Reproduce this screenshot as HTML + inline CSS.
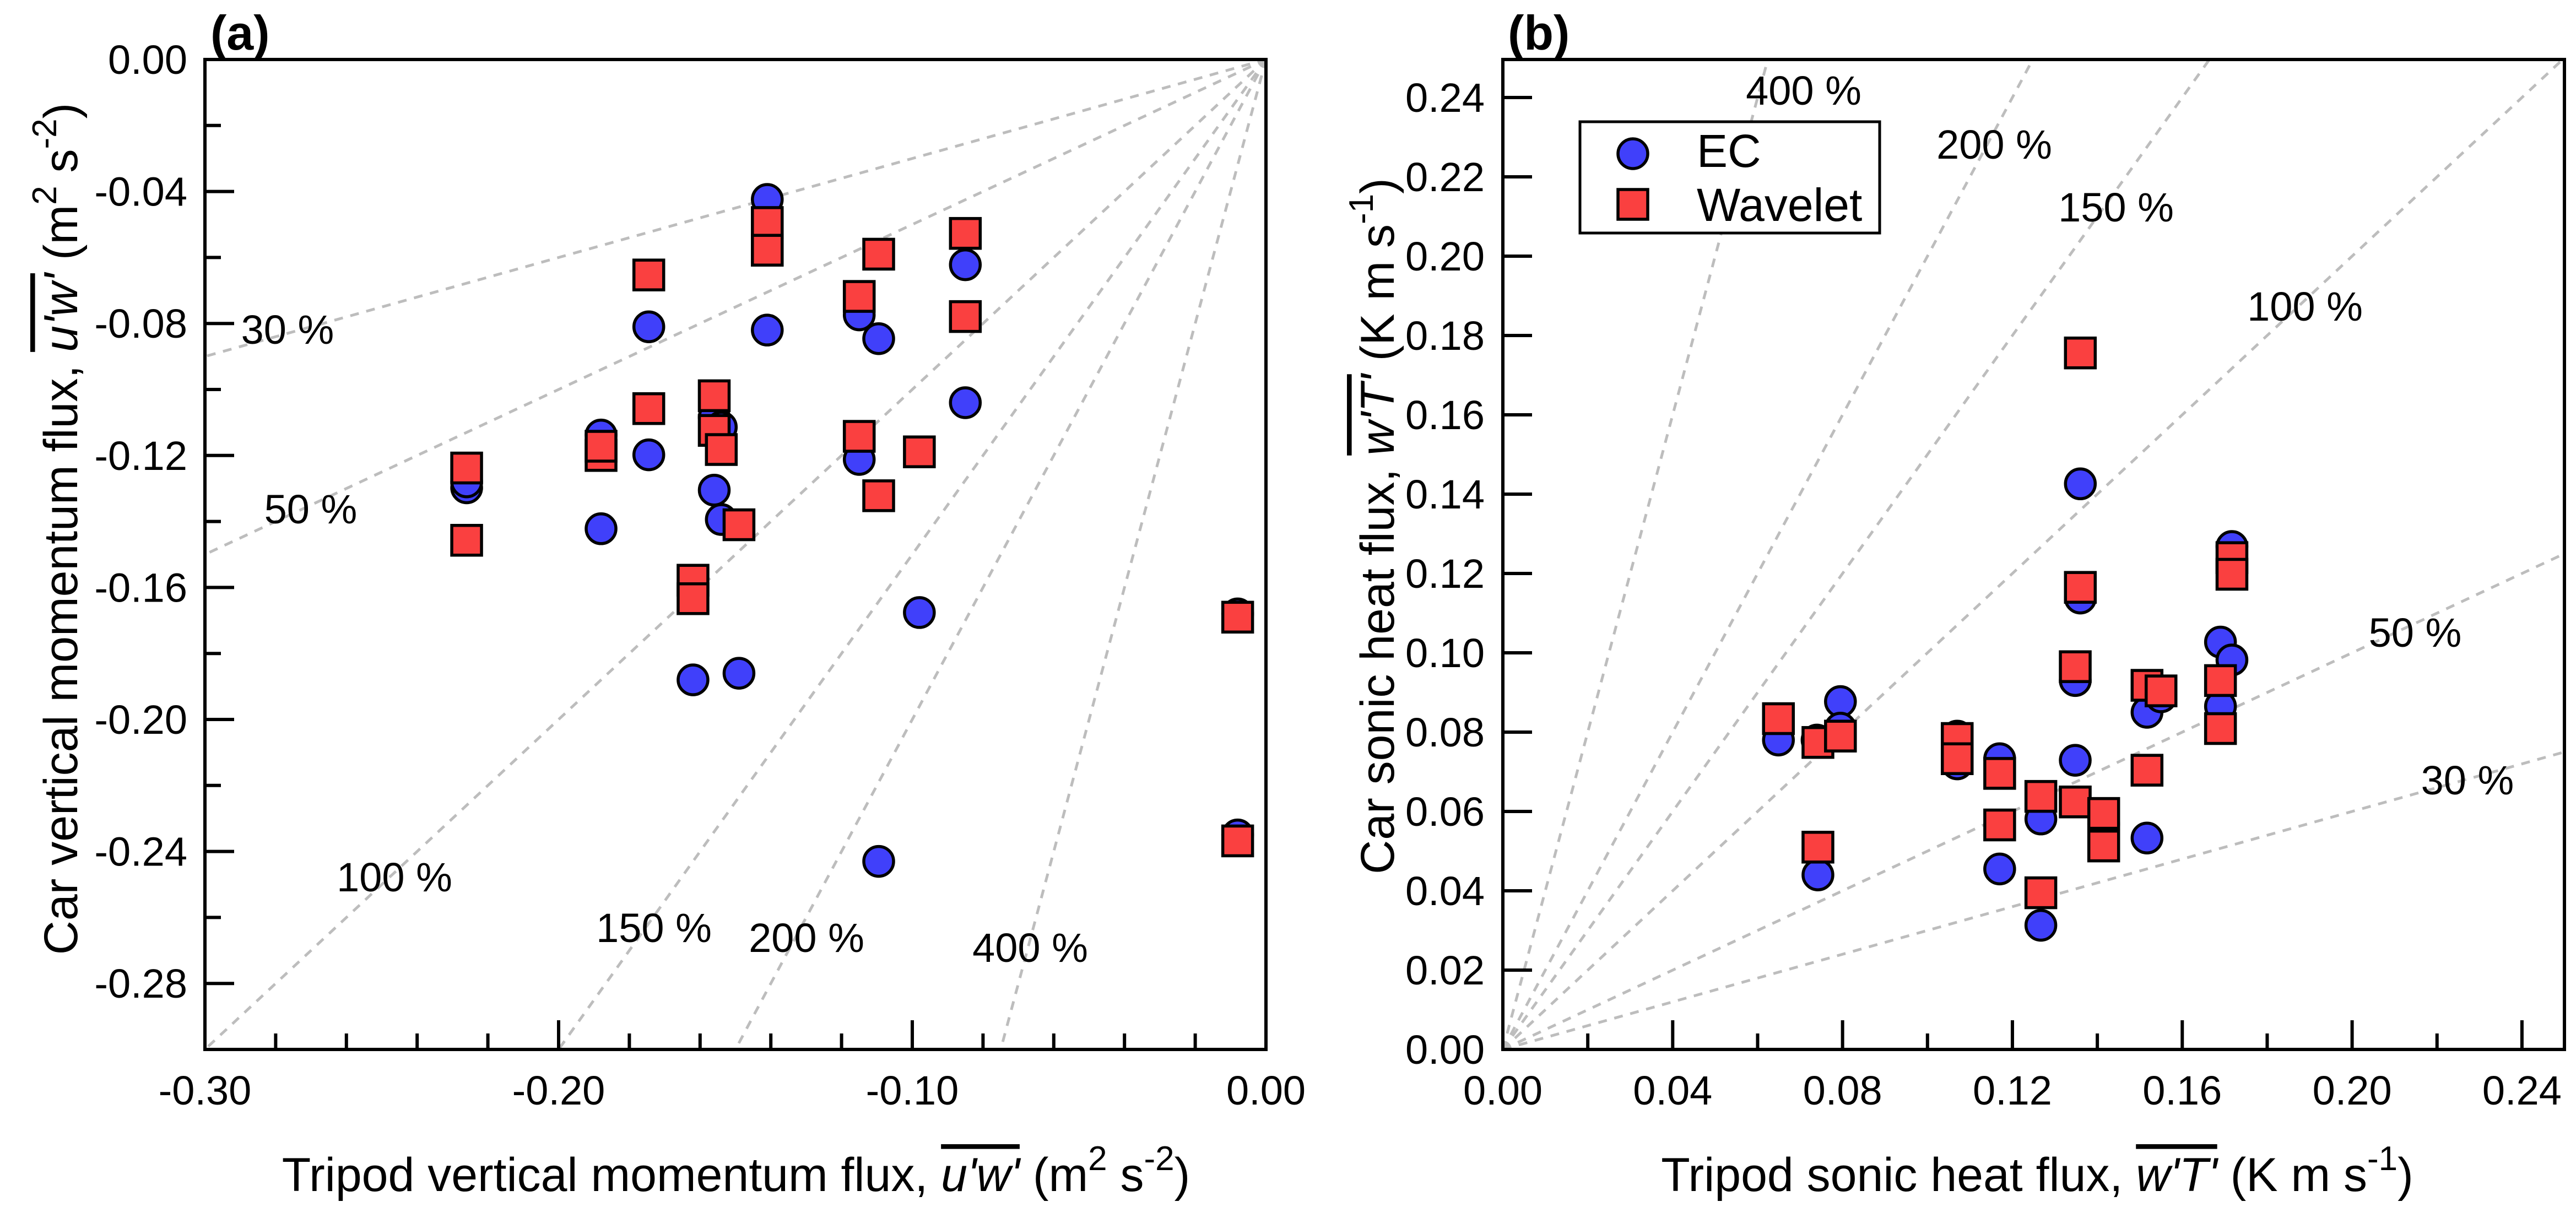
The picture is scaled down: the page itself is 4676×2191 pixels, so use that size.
<!DOCTYPE html>
<html><head><meta charset="utf-8">
<style>
html,body{margin:0;padding:0;background:#fff;}
svg{display:block;font-family:"Liberation Sans",Arial,sans-serif;}
</style></head>
<body>
<svg id="chart" width="4676" height="2191" viewBox="0 0 4676 2191" xmlns="http://www.w3.org/2000/svg">
<defs>
<clipPath id="clipA"><rect x="372" y="108" width="1926" height="1797"/></clipPath>
<clipPath id="clipB"><rect x="2728" y="108" width="1927" height="1797"/></clipPath>
</defs>
<g id="panelA"></g>
<g id="panelB"></g>
</svg>
<script>
// ---- Panel (a) data: momentum flux ----
const aEcX = [-0.141,-0.085,-0.1745,-0.141,-0.115,-0.1095,-0.085,-0.188,-0.1745,-0.156,-0.154,-0.226,-0.226,-0.156,-0.154,-0.188,-0.115,-0.098,-0.162,-0.149,-0.1095,-0.008,-0.008];
const aEcY = [-0.0424,-0.0622,-0.081,-0.082,-0.0774,-0.0846,-0.104,-0.1138,-0.1198,-0.1084,-0.1114,-0.1298,-0.128,-0.1305,-0.1394,-0.1422,-0.1212,-0.1676,-0.188,-0.186,-0.243,-0.168,-0.235];
const aWvX = [-0.141,-0.141,-0.085,-0.1095,-0.1745,-0.115,-0.085,-0.1745,-0.156,-0.156,-0.154,-0.188,-0.188,-0.226,-0.226,-0.149,-0.115,-0.098,-0.1095,-0.162,-0.162,-0.008,-0.008];
const aWvY = [-0.0494,-0.0578,-0.0527,-0.059,-0.0653,-0.0718,-0.0779,-0.1058,-0.1019,-0.1124,-0.1182,-0.120,-0.1172,-0.1238,-0.1457,-0.141,-0.1142,-0.1189,-0.1322,-0.1578,-0.1634,-0.169,-0.2368];
const aRatios = [0.3,0.5,1,1.5,2,4];
const aRatioLabels = ["30 %","50 %","100 %","150 %","200 %","400 %"];
const aXTicks = [-0.30,-0.20,-0.10,0.00];
const aYTicks = [0.00,-0.04,-0.08,-0.12,-0.16,-0.20,-0.24,-0.28];

// ---- Panel (b) data: sonic heat flux ----
const bEcX = [0.0649,0.074,0.0795,0.0795,0.0742,0.107,0.107,0.117,0.117,0.1267,0.1267,0.1348,0.1348,0.136,0.136,0.1415,0.1517,0.1517,0.155,0.169,0.169,0.1717,0.1717];
const bEcY = [0.078,0.078,0.0877,0.081,0.044,0.079,0.072,0.0733,0.0455,0.0581,0.0313,0.0729,0.093,0.1426,0.1138,0.0568,0.085,0.0533,0.0889,0.1027,0.0865,0.0982,0.1268];
const bWvX = [0.0649,0.0742,0.0795,0.0742,0.107,0.107,0.117,0.117,0.1267,0.1267,0.1348,0.136,0.136,0.1348,0.1415,0.1415,0.1517,0.155,0.1517,0.169,0.169,0.1717,0.1717];
const bWvY = [0.0834,0.0774,0.079,0.051,0.0784,0.0733,0.0696,0.0566,0.0638,0.0395,0.0965,0.1165,0.1756,0.0624,0.0595,0.0513,0.0918,0.0904,0.0704,0.093,0.0809,0.124,0.1198];
const bRatios = [4,2,1.5,1,0.5,0.3];
const bRatioLabels = ["400 %","200 %","150 %","100 %","50 %","30 %"];
const bXTicks = [0.00,0.04,0.08,0.12,0.16,0.20,0.24];
const bYTicks = [0.00,0.02,0.04,0.06,0.08,0.10,0.12,0.14,0.16,0.18,0.20,0.22,0.24];

const NS="http://www.w3.org/2000/svg";
function mk(tag, attrs, parent){const e=document.createElementNS(NS,tag);for(const k in attrs)e.setAttribute(k,attrs[k]);parent.appendChild(e);return e;}

const A={x0:372,x1:2298,y0:108,y1:1905,xmin:-0.30,xmax:0,ymin:-0.30,ymax:0};
const B={x0:2728,x1:4655,y0:105,y1:1905,xmin:0,xmax:0.25,ymin:0,ymax:0.25};
function sx(P,v){return P.x0+(v-P.xmin)/(P.xmax-P.xmin)*(P.x1-P.x0);}
function sy(P,v){return P.y1-(v-P.ymin)/(P.ymax-P.ymin)*(P.y1-P.y0);}

function circle(g,cx,cy){const c=mk('circle',{cx:cx,cy:cy,r:27,fill:'#4040fa',stroke:'#000','stroke-width':5.5},g);

return c;}
function square(g,cx,cy){const r=mk('rect',{x:cx-27,y:cy-27,width:54,height:54,fill:'#fa4040',stroke:'#000','stroke-width':5.5},g);

return r;}

// ===== Panel A =====
(function(){
const g=document.getElementById('panelA');
const lines=mk('g',{'clip-path':'url(#clipA)'},g);


aRatios.forEach((k)=>{
  let xe=-0.30, ye=k*xe; if(ye<-0.30){ye=-0.30;xe=ye/k;}
  const l=mk('line',{x1:sx(A,0),y1:sy(A,0),x2:sx(A,xe),y2:sy(A,ye),stroke:'#bdbdbd','stroke-width':5,'stroke-dasharray':'16 14'},lines);
  
  
});
const labPos=[[522,624],[564,950],[716,1618],[1187,1710],[1464,1728],[1870,1746]];
aRatioLabels.forEach((t,i)=>{
  const e=mk('text',{x:labPos[i][0],y:labPos[i][1],'font-size':74,'text-anchor':'middle',fill:'#000'},g);
  e.textContent=t;
  
  
});
const f=mk('rect',{x:A.x0,y:A.y0,width:A.x1-A.x0,height:A.y1-A.y0,fill:'none',stroke:'#000','stroke-width':6},g);


for(let i=0;i<=15;i++){const v=-0.30+i*0.02;const X=sx(A,v);
  const major=(i%5===0);
  mk('line',{x1:X,y1:A.y1,x2:X,y2:A.y1-(major?53:29),stroke:'#000','stroke-width':6},g);}
for(let i=0;i<=15;i++){const v=-i*0.02;const Y=sy(A,v);const major=i%2===0;
  mk('line',{x1:A.x0,y1:Y,x2:A.x0+(major?53:29),y2:Y,stroke:'#000','stroke-width':6},g);}
aXTicks.forEach(v=>{const e=mk('text',{x:sx(A,v),y:2005,'font-size':74,'text-anchor':'middle'},g);e.textContent=v.toFixed(2);
  
  });
aYTicks.forEach(v=>{const e=mk('text',{x:340,y:sy(A,v)+26,'font-size':74,'text-anchor':'end'},g);e.textContent=v.toFixed(2);
  
  });
const pts=mk('g',{},g);
aEcX.forEach((v,i)=>circle(pts,sx(A,v),sy(A,aEcY[i])));
aWvX.forEach((v,i)=>square(pts,sx(A,v),sy(A,aWvY[i])));
})();

// ===== Panel B =====
(function(){
const g=document.getElementById('panelB');
const lines=mk('g',{'clip-path':'url(#clipB)'},g);


bRatios.forEach((k)=>{
  let xe=0.25, ye=k*xe; if(ye>0.25){ye=0.25;xe=ye/k;}
  const l=mk('line',{x1:sx(B,0),y1:sy(B,0),x2:sx(B,xe),y2:sy(B,ye),stroke:'#bdbdbd','stroke-width':5,'stroke-dasharray':'16 14'},lines);
  
  
});
const labPos=[[3274,190],[3620,288],[3841,402],[4184,582],[4384,1174],[4479,1442]];
bRatioLabels.forEach((t,i)=>{
  const e=mk('text',{x:labPos[i][0],y:labPos[i][1],'font-size':74,'text-anchor':'middle'},g);
  e.textContent=t;
  
  
});
const f=mk('rect',{x:B.x0,y:108,width:B.x1-B.x0,height:B.y1-108,fill:'none',stroke:'#000','stroke-width':6},g);


for(let i=0;i<=12;i++){const X=sx(B,i*0.02);const major=i%2===0;
  mk('line',{x1:X,y1:B.y1,x2:X,y2:B.y1-(major?53:29),stroke:'#000','stroke-width':6},g);}
for(let i=0;i<=12;i++){const Y=sy(B,i*0.02);
  mk('line',{x1:B.x0,y1:Y,x2:B.x0+53,y2:Y,stroke:'#000','stroke-width':6},g);}
bXTicks.forEach(v=>{const e=mk('text',{x:sx(B,v),y:2005,'font-size':74,'text-anchor':'middle'},g);e.textContent=v.toFixed(2);
  
  });
bYTicks.forEach(v=>{const e=mk('text',{x:2695,y:sy(B,v)+26,'font-size':74,'text-anchor':'end'},g);e.textContent=v.toFixed(2);
  
  });
const pts=mk('g',{},g);
bEcX.forEach((v,i)=>circle(pts,sx(B,v),sy(B,bEcY[i])));
bWvX.forEach((v,i)=>square(pts,sx(B,v),sy(B,bWvY[i])));
})();
</script>
<svg style="position:absolute;left:0;top:0" width="4676" height="2191" viewBox="0 0 4676 2191" font-family="Liberation Sans, Arial, sans-serif">
  <text x="382" y="90" font-size="88" font-weight="bold">(a)</text>
  <text x="2737" y="90" font-size="88" font-weight="bold">(b)</text>
  <text x="1336" y="2162" font-size="86" text-anchor="middle">Tripod vertical momentum flux, <tspan font-style="italic" text-decoration="overline">u'w'</tspan> (m<tspan dy="-38" font-size="62">2</tspan><tspan dy="38"> s</tspan><tspan dy="-38" font-size="62">-2</tspan><tspan dy="38">)</tspan></text>
  <text transform="translate(140,960) rotate(-90)" font-size="86" text-anchor="middle">Car vertical momentum flux, <tspan font-style="italic" text-decoration="overline">u'w'</tspan> (m<tspan dy="-38" font-size="62">2</tspan><tspan dy="38"> s</tspan><tspan dy="-38" font-size="62">-2</tspan><tspan dy="38">)</tspan></text>
  <text x="3698" y="2162" font-size="86" text-anchor="middle">Tripod sonic heat flux, <tspan font-style="italic" text-decoration="overline">w'T'</tspan> (K m s<tspan dy="-38" font-size="62">-1</tspan><tspan dy="38">)</tspan></text>
  <text transform="translate(2530,955) rotate(-90)" font-size="86" text-anchor="middle">Car sonic heat flux, <tspan font-style="italic" text-decoration="overline">w'T'</tspan> (K m s<tspan dy="-38" font-size="62">-1</tspan><tspan dy="38">)</tspan></text>
  <g>
    <rect x="2868" y="221" width="544" height="202" fill="#fff" stroke="#000" stroke-width="5"/>
    <circle cx="2964" cy="279" r="27" fill="#4040fa" stroke="#000" stroke-width="5.5"/>
    <text x="3080" y="303" font-size="84">EC</text>
    <rect x="2937" y="344" width="54" height="54" fill="#fa4040" stroke="#000" stroke-width="5.5"/>
    <text x="3080" y="401" font-size="84">Wavelet</text>
  </g>
</svg>
</body></html>
